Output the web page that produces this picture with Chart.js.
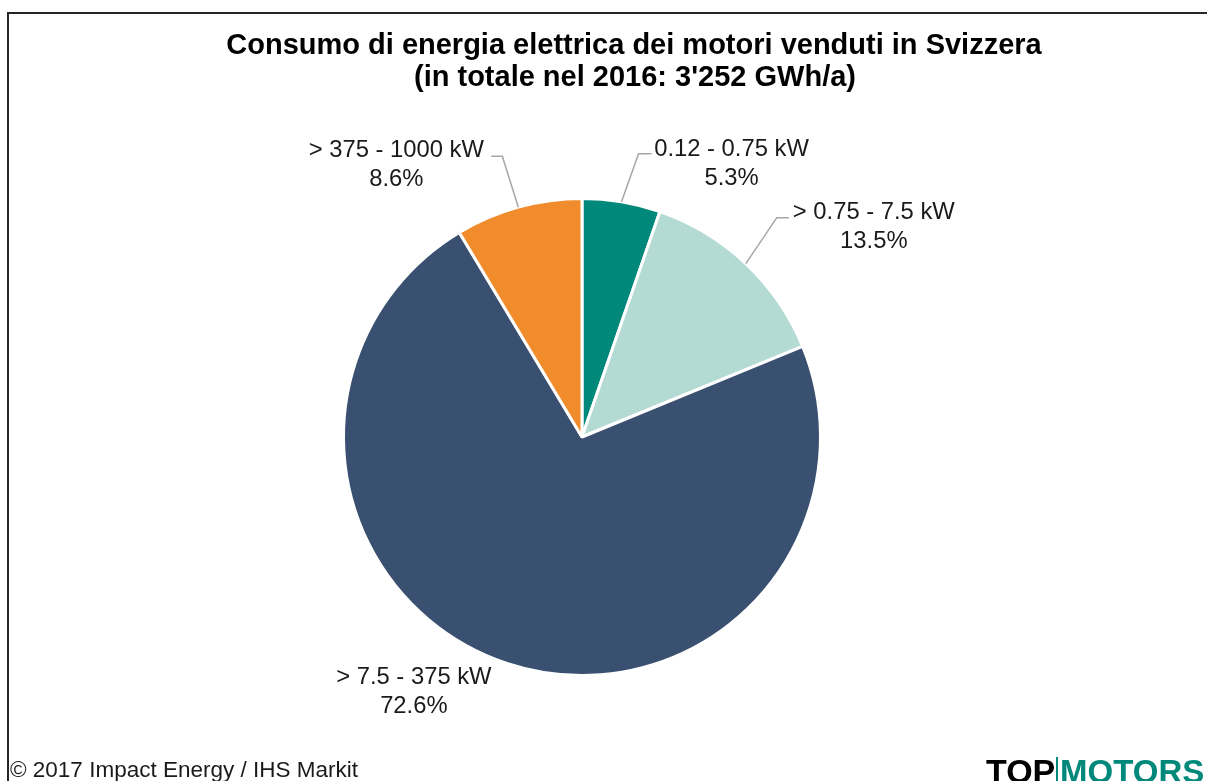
<!DOCTYPE html>
<html>
<head>
<meta charset="utf-8">
<script src="https://cdn.jsdelivr.net/npm/chart.js@4.4.0/dist/chart.umd.min.js"></script>
<style>
  html, body { margin: 0; padding: 0; background: #fff; }
  #wrap { width: 1207px; height: 781px; position: relative; }
</style>
</head>
<body>
<div id="wrap"><canvas id="pieChart"></canvas></div>
<script>
const categories = ['0.12 - 0.75 kW', '> 0.75 - 7.5 kW', '> 7.5 - 375 kW', '> 375 - 1000 kW']
const shares = [5.3, 13.5, 72.6, 8.6]
const colors = ['#00887A', '#B4DAD4', '#3A5071', '#F08C2B']
const titleLines = ['Consumo di energia elettrica dei motori venduti in Svizzera', '(in totale nel 2016: 3\'252 GWh/a)']
const sourceText = '\u00A9 2017 Impact Energy / IHS Markit'

// label placement relative to the slice's outer edge midpoint
const labelLayout = [
    { text: [110, -52], elbow: [17, -48], end: [30, -48], leader: true },
    { text: [128, -51], elbow: [31, -46], end: [43, -46], leader: true },
    { text: [-93, 14], leader: false },
    { text: [-122, -57], elbow: [-16, -51], end: [-27, -51], leader: true },
]

const FONT = '"Liberation Sans", Arial, sans-serif'

const decorPlugin = {
    id: 'decor',
    beforeDraw(chart) {
        const ctx = chart.ctx
        ctx.save()
        ctx.fillStyle = '#fff'
        ctx.fillRect(0, 0, chart.width, chart.height)
        ctx.strokeStyle = '#262626'
        ctx.lineWidth = 2
        ctx.beginPath()
        ctx.moveTo(8, chart.height)
        ctx.lineTo(8, 13)
        ctx.lineTo(chart.width, 13)
        ctx.stroke()
        ctx.restore()
    },
    afterDraw(chart) {
        const ctx = chart.ctx
        ctx.save()
        // title
        ctx.fillStyle = '#000'
        ctx.font = 'bold 29px ' + FONT
        ctx.textAlign = 'center'
        ctx.textBaseline = 'middle'
        ctx.fillText(titleLines[0], 634, 46)
        ctx.fillText(titleLines[1], 635, 78)

        // slice labels
        const meta = chart.getDatasetMeta(0)
        ctx.font = '23.8px ' + FONT
        meta.data.forEach((arc, i) => {
            const p = arc.getProps(['x', 'y', 'startAngle', 'endAngle', 'outerRadius'], true)
            const mid = (p.startAngle + p.endAngle) / 2
            const ex = p.x + Math.cos(mid) * p.outerRadius
            const ey = p.y + Math.sin(mid) * p.outerRadius
            const lay = labelLayout[i]
            if (lay.leader) {
                ctx.strokeStyle = '#A6A6A6'
                ctx.lineWidth = 1.5
                ctx.beginPath()
                ctx.moveTo(ex, ey)
                ctx.lineTo(ex + lay.elbow[0], ey + lay.elbow[1])
                ctx.lineTo(ex + lay.end[0], ey + lay.end[1])
                ctx.stroke()
            }
            ctx.fillStyle = '#1a1a1a'
            const tx = ex + lay.text[0]
            const ty = ey + lay.text[1]
            ctx.fillText(categories[i], tx, ty)
            ctx.fillText(shares[i].toFixed(1) + '%', tx, ty + 29)
        })

        // source
        ctx.textAlign = 'left'
        ctx.fillStyle = '#1a1a1a'
        ctx.font = '22.5px ' + FONT
        ctx.fillText(sourceText, 10, 771)

        // logo
        ctx.textBaseline = 'alphabetic'
        ctx.font = 'bold 34px ' + FONT
        ctx.fillStyle = '#000'
        ctx.fillText('TOP', 986, 783)
        ctx.fillStyle = '#00887A'
        ctx.fillRect(1056, 757, 2, 24)
        ctx.font = 'bold 33px ' + FONT
        ctx.fillText('MOTORS', 1060, 783)
        ctx.restore()
    }
}

const ctx = document.getElementById('pieChart').getContext('2d')

new Chart(ctx, {
    type: 'pie',
    data: {
        labels: categories,
        datasets: [{
            data: shares,
            backgroundColor: colors,
            borderColor: '#ffffff',
            borderWidth: 3,
        }]
    },
    options: {
        responsive: true,
        maintainAspectRatio: false,
        animation: false,
        layout: {
            padding: { left: 342, right: 385, top: 197, bottom: 104 }
        },
        plugins: {
            legend: { display: false },
            tooltip: { enabled: false },
            title: { display: false }
        }
    },
    plugins: [decorPlugin]
});
</script>
</body>
</html>
